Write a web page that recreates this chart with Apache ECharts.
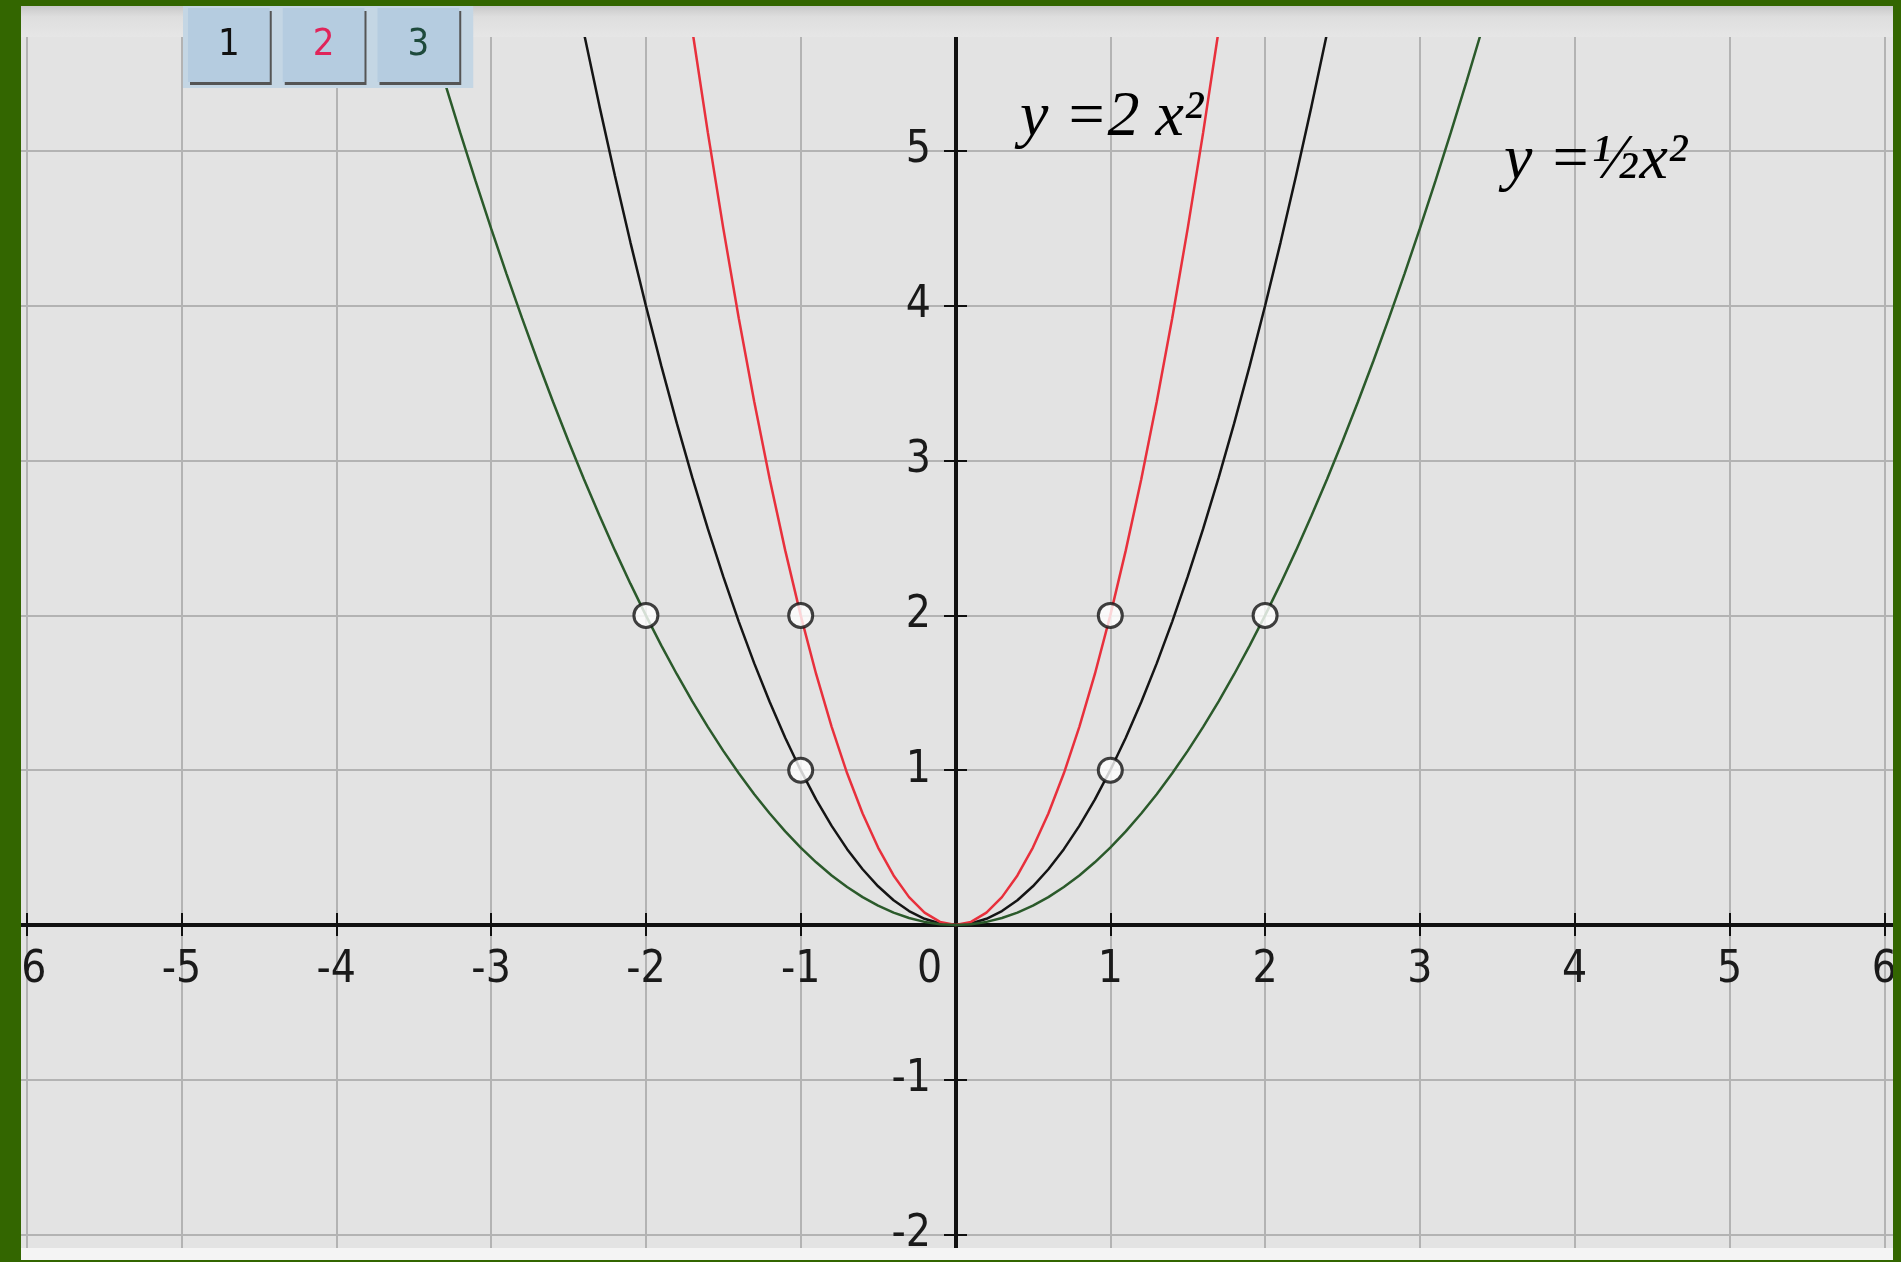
<!DOCTYPE html>
<html>
<head>
<meta charset="utf-8">
<script src="https://cdn.jsdelivr.net/npm/echarts@6/dist/echarts.min.js"></script>
<style>
  html, body { margin: 0; padding: 0; background: #336600; }
  #drawImg { width: 1901px; height: 1262px; }
</style>
</head>
<body>
<div id="drawImg"></div>
<script>
// x 取样点
const xs = [-3.5, -3.4, -3.3, -3.2, -3.1, -3, -2.9, -2.8, -2.7, -2.6, -2.5, -2.4, -2.3, -2.2, -2.1, -2,
  -1.9, -1.8, -1.7, -1.6, -1.5, -1.4, -1.3, -1.2, -1.1, -1, -0.9, -0.8, -0.7, -0.6, -0.5, -0.4, -0.3, -0.2, -0.1,
  0, 0.1, 0.2, 0.3, 0.4, 0.5, 0.6, 0.7, 0.8, 0.9, 1, 1.1, 1.2, 1.3, 1.4, 1.5, 1.6, 1.7, 1.8, 1.9,
  2, 2.1, 2.2, 2.3, 2.4, 2.5, 2.6, 2.7, 2.8, 2.9, 3, 3.1, 3.2, 3.3, 3.4, 3.5];

// 1: y = x²
const yBlack = [12.25, 11.56, 10.89, 10.24, 9.61, 9, 8.41, 7.84, 7.29, 6.76, 6.25, 5.76, 5.29, 4.84, 4.41, 4,
  3.61, 3.24, 2.89, 2.56, 2.25, 1.96, 1.69, 1.44, 1.21, 1, 0.81, 0.64, 0.49, 0.36, 0.25, 0.16, 0.09, 0.04, 0.01,
  0, 0.01, 0.04, 0.09, 0.16, 0.25, 0.36, 0.49, 0.64, 0.81, 1, 1.21, 1.44, 1.69, 1.96, 2.25, 2.56, 2.89, 3.24, 3.61,
  4, 4.41, 4.84, 5.29, 5.76, 6.25, 6.76, 7.29, 7.84, 8.41, 9, 9.61, 10.24, 10.89, 11.56, 12.25];

// 2: y = 2x²
const yRed = [24.5, 23.12, 21.78, 20.48, 19.22, 18, 16.82, 15.68, 14.58, 13.52, 12.5, 11.52, 10.58, 9.68, 8.82, 8,
  7.22, 6.48, 5.78, 5.12, 4.5, 3.92, 3.38, 2.88, 2.42, 2, 1.62, 1.28, 0.98, 0.72, 0.5, 0.32, 0.18, 0.08, 0.02,
  0, 0.02, 0.08, 0.18, 0.32, 0.5, 0.72, 0.98, 1.28, 1.62, 2, 2.42, 2.88, 3.38, 3.92, 4.5, 5.12, 5.78, 6.48, 7.22,
  8, 8.82, 9.68, 10.58, 11.52, 12.5, 13.52, 14.58, 15.68, 16.82, 18, 19.22, 20.48, 21.78, 23.12, 24.5];

// 3: y = ½x²
const yGreen = [6.125, 5.78, 5.445, 5.12, 4.805, 4.5, 4.205, 3.92, 3.645, 3.38, 3.125, 2.88, 2.645, 2.42, 2.205, 2,
  1.805, 1.62, 1.445, 1.28, 1.125, 0.98, 0.845, 0.72, 0.605, 0.5, 0.405, 0.32, 0.245, 0.18, 0.125, 0.08, 0.045, 0.02, 0.005,
  0, 0.005, 0.02, 0.045, 0.08, 0.125, 0.18, 0.245, 0.32, 0.405, 0.5, 0.605, 0.72, 0.845, 0.98, 1.125, 1.28, 1.445, 1.62, 1.805,
  2, 2.205, 2.42, 2.645, 2.88, 3.125, 3.38, 3.645, 3.92, 4.205, 4.5, 4.805, 5.12, 5.445, 5.78, 6.125];

// 标记点
const ptsX = [-2, -1, 1, 2, -1, 1];
const ptsY = [2, 2, 2, 2, 1, 1];

// 刻度标签
const xTicks = [-6, -5, -4, -3, -2, -1, 0, 1, 2, 3, 4, 5, 6];
const yTicks = [-2, -1, 1, 2, 3, 4, 5];

const seriesNames = ["1", "2", "3"];
const formulaTexts = ["y =2 x\u00b2", "y =\u00bdx\u00b2"];

const AXIS_FONT = "'DejaVu Sans Condensed', 'DejaVu Sans', sans-serif";
const SERIF_FONT = "'Liberation Serif', 'DejaVu Serif', serif";
const GREEN = "#336600";

function pairs(x, y) {
  return x.map((v, i) => [v, y[i]]);
}

// 主网格 (x: -7..7, y: -3..6)，零点位于 (955.5, 925)
const gridMain = { left: -128.1, right: -138.1, top: -3.8, bottom: -127.4, outerBoundsMode: "none", containLabel: false };
// x 轴条：上下边缘都在 y = 0
const gridX = { left: -128.1, right: -138.1, top: 924, bottom: 337, outerBoundsMode: "none", containLabel: false };
// y 轴条：左右边缘都在 x = 0
const gridY = { left: 955, right: 945, top: -3.8, bottom: -127.4, outerBoundsMode: "none", containLabel: false };

const lineBlack = { show: true, onZero: false, lineStyle: { color: "#111", width: 3 } };
const tickBlack = { show: true, inside: false, length: 11, lineStyle: { color: "#111", width: 2 } };
const hidden = { show: false };
const splitGray = { show: true, lineStyle: { color: "#b3b3b3", width: 2 } };

const option = {
  backgroundColor: "#e3e3e3",
  animation: false,
  grid: [gridMain, gridX, gridY],
  legend: {
    left: 183,
    top: 6,
    z: 200,
    icon: "rect",
    itemWidth: 0,
    itemHeight: 0,
    itemGap: 8,
    padding: [2, 14, 6, 0],
    backgroundColor: "#c4d6e4",
    selectedMode: false,
    textStyle: {
      fontSize: 38,
      fontFamily: AXIS_FONT,
      backgroundColor: "#b5cce0",
      padding: [18, 30, 18, 30],
      shadowColor: "#555",
      shadowOffsetX: 2,
      shadowOffsetY: 3,
      shadowBlur: 0,
    },
    data: [
      { name: seriesNames[0], textStyle: { color: "#111" } },
      { name: seriesNames[1], textStyle: { color: "#e0245a" } },
      { name: seriesNames[2], textStyle: { color: "#1e4a3c" } },
    ],
  },
  xAxis: [
    // 网格线
    { gridIndex: 0, type: "value", min: -7, max: 7, interval: 1,
      axisLine: hidden, axisTick: hidden, axisLabel: hidden, splitLine: splitGray },
    // x 轴（向下刻度 + 标签）
    {
      gridIndex: 1, type: "value", min: -7, max: 7, interval: 1, position: "bottom",
      axisLine: lineBlack, axisTick: tickBlack, splitLine: hidden,
      axisLabel: {
        margin: 24, fontSize: 44, fontFamily: AXIS_FONT, color: "#1a1a1a",
        formatter: (v) => (v === 0 ? "{z|0}" : xTicks.includes(v) ? String(v) : ""),
        rich: { z: { fontSize: 44, fontFamily: AXIS_FONT, color: "#1a1a1a", padding: [0, 52, 0, 0] } },
      },
    },
    // x 轴（向上刻度）
    { gridIndex: 1, type: "value", min: -7, max: 7, interval: 1, position: "top",
      axisLine: lineBlack, axisTick: tickBlack, axisLabel: hidden, splitLine: hidden },
    { gridIndex: 2, type: "value", min: 0, max: 1, show: false },
  ],
  yAxis: [
    { gridIndex: 0, type: "value", min: -3, max: 6, interval: 1,
      axisLine: hidden, axisTick: hidden, axisLabel: hidden, splitLine: splitGray },
    { gridIndex: 1, type: "value", min: 0, max: 1, show: false },
    // y 轴（向左刻度 + 标签）
    {
      gridIndex: 2, type: "value", min: -3, max: 6, interval: 1, position: "left",
      axisLine: lineBlack, axisTick: tickBlack, splitLine: hidden,
      axisLabel: {
        margin: 24, fontSize: 44, fontFamily: AXIS_FONT, color: "#1a1a1a",
        formatter: (v) => (yTicks.includes(v) ? String(v) : ""),
      },
    },
    // y 轴（向右刻度）
    { gridIndex: 2, type: "value", min: -3, max: 6, interval: 1, position: "right",
      axisLine: lineBlack, axisTick: tickBlack, axisLabel: hidden, splitLine: hidden },
  ],
  series: [
    {
      name: seriesNames[0], type: "line", xAxisIndex: 0, yAxisIndex: 0, showSymbol: false, symbol: "none", z: 3,
      color: "#151515", lineStyle: { color: "#151515", width: 2.5 },
      data: pairs(xs, yBlack),
    },
    {
      name: seriesNames[1], type: "line", xAxisIndex: 0, yAxisIndex: 0, showSymbol: false, symbol: "none", z: 3,
      color: "#e8303c", lineStyle: { color: "#e8303c", width: 2.5 },
      data: pairs(xs, yRed),
    },
    {
      name: seriesNames[2], type: "line", xAxisIndex: 0, yAxisIndex: 0, showSymbol: false, symbol: "none", z: 3,
      color: "#2b5a2b", lineStyle: { color: "#2b5a2b", width: 2.5 },
      data: pairs(xs, yGreen),
    },
    {
      name: "points", type: "scatter", xAxisIndex: 0, yAxisIndex: 0, z: 6, symbol: "circle", symbolSize: 24,
      itemStyle: { color: "#ffffff", borderColor: "#111", borderWidth: 3 },
      data: pairs(ptsX, ptsY),
    },
  ],
  graphic: [
    // 顶部标尺条
    {
      type: "rect", z: 100, shape: { x: 21, y: 6, width: 1872, height: 31 },
      style: {
        fill: { type: "linear", x: 0, y: 0, x2: 0, y2: 1,
          colorStops: [{ offset: 0, color: "#c9c9c9" }, { offset: 0.35, color: "#dedede" }, { offset: 1, color: "#e6e6e6" }] },
      },
    },
    // 底部白条
    { type: "rect", z: 100, shape: { x: 21, y: 1248, width: 1872, height: 12 }, style: { fill: "#f4f4f4" } },
    // 绿色边框
    { type: "rect", z: 110, shape: { x: 0, y: 0, width: 1901, height: 6 }, style: { fill: GREEN } },
    { type: "rect", z: 110, shape: { x: 0, y: 1260, width: 1901, height: 2 }, style: { fill: GREEN } },
    { type: "rect", z: 110, shape: { x: 0, y: 0, width: 21, height: 1262 }, style: { fill: GREEN } },
    { type: "rect", z: 110, shape: { x: 1893, y: 0, width: 8, height: 1262 }, style: { fill: GREEN } },
    // 公式
    {
      type: "text", z: 50,
      style: { x: 1020, y: 118, text: formulaTexts[0], fill: "#000", verticalAlign: "middle",
        font: "italic 64px " + SERIF_FONT },
    },
    {
      type: "text", z: 50,
      style: { x: 1504, y: 161, text: formulaTexts[1], fill: "#000", verticalAlign: "middle",
        font: "italic 64px " + SERIF_FONT },
    },
  ],
};

const chart = echarts.init(document.getElementById("drawImg"));
chart.setOption(option);
</script>
</body>
</html>
